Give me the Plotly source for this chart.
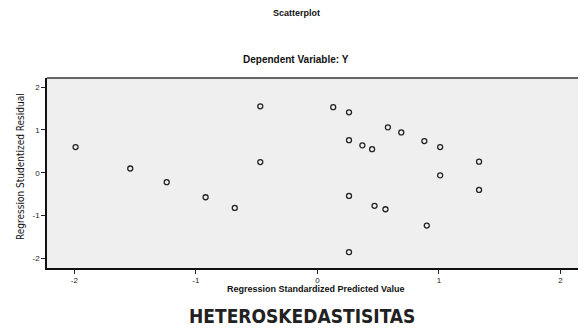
import plotly.graph_objects as go

# standardized predicted value vs studentized residual
pred = [-1.99, -1.54, -1.24, -0.92, -0.68, -0.47, -0.47,
        0.13, 0.26, 0.58, 0.69, 0.26, 0.37, 0.45, 0.88, 1.01, 1.33,
        1.01, 1.33, 0.26, 0.47, 0.56, 0.90, 0.26]
resid = [0.60, 0.10, -0.22, -0.57, -0.82, 1.55, 0.25,
         1.53, 1.41, 1.06, 0.94, 0.76, 0.64, 0.55, 0.74, 0.60, 0.26,
         -0.06, -0.40, -0.54, -0.77, -0.85, -1.23, -1.85]
x_ticks = [-2, -1, 0, 1, 2]
y_ticks = [-2, -1, 0, 1, 2]

# page body has an 8px margin, so the figure is shifted by 8px
OFF = 8
W, H = 578, 320
L, R, T, B = 39, 0, 70, 60


def py(p):
    return (H - B - (p - OFF)) / (H - T - B)


def px(p):
    return (p - OFF - L) / (W - L - R)


fig = go.Figure()
fig.add_trace(go.Scatter(
    x=pred, y=resid, mode='markers',
    marker=dict(symbol='circle-open', size=5, color='#222222', line=dict(width=1.3)),
    showlegend=False, hoverinfo='skip'
))

tick_font = dict(family='Liberation Sans, Arial, sans-serif', size=8, color='#222222')

fig.update_layout(
    width=W, height=H,
    margin=dict(l=L, r=R, t=T, b=B),
    paper_bgcolor='white',
    plot_bgcolor='#efefef',
    xaxis=dict(range=[-2.225, 2.21], tickvals=x_ticks, ticktext=[str(v) for v in x_ticks],
               showgrid=False, zeroline=False, showline=True, linecolor='#111111', linewidth=1.5,
               ticks='outside', ticklen=4, tickcolor='#222222', tickfont=tick_font),
    yaxis=dict(range=[-2.22, 2.21], tickvals=y_ticks, ticktext=[str(v) for v in y_ticks],
               showgrid=False, zeroline=False, showline=True, linecolor='#111111', linewidth=1.5,
               ticks='outside', ticklen=4, tickcolor='#222222', tickfont=tick_font),
    shapes=[dict(type='line', xref='paper', yref='paper', x0=0, x1=1.05, y0=1, y1=1,
                 line=dict(color='#333333', width=1.5))],
    annotations=[
        dict(text='<b>Scatterplot</b>', x=px(296), y=py(13), xref='paper', yref='paper',
             xanchor='center', yanchor='middle', showarrow=False,
             font=dict(family='Liberation Sans, Arial', size=9, color='#111111')),
        dict(text='<b>Dependent Variable: Y</b>', x=px(296), y=py(60), xref='paper', yref='paper',
             xanchor='center', yanchor='middle', showarrow=False,
             font=dict(family='Liberation Sans, Arial', size=10, color='#111111')),
        dict(text='<b>Regression Standardized Predicted Value</b>', x=px(316), y=py(289),
             xref='paper', yref='paper', xanchor='center', yanchor='middle', showarrow=False,
             font=dict(family='Liberation Sans, Arial', size=9, color='#111111')),
        dict(text='Regression Studentized Residual', x=px(20), y=py(167), xref='paper', yref='paper',
             xanchor='center', yanchor='middle', textangle=-90, showarrow=False,
             font=dict(family='DejaVu Sans Condensed, Arial', size=10, color='#111111')),
        dict(text='<b>HETEROSKEDASTISITAS</b>', x=px(302), y=py(316), xref='paper', yref='paper',
             xanchor='center', yanchor='middle', showarrow=False,
             font=dict(family='DejaVu Sans Condensed, Arial', size=19, color='#222222')),
    ]
)

fig.write_html("out.html")
